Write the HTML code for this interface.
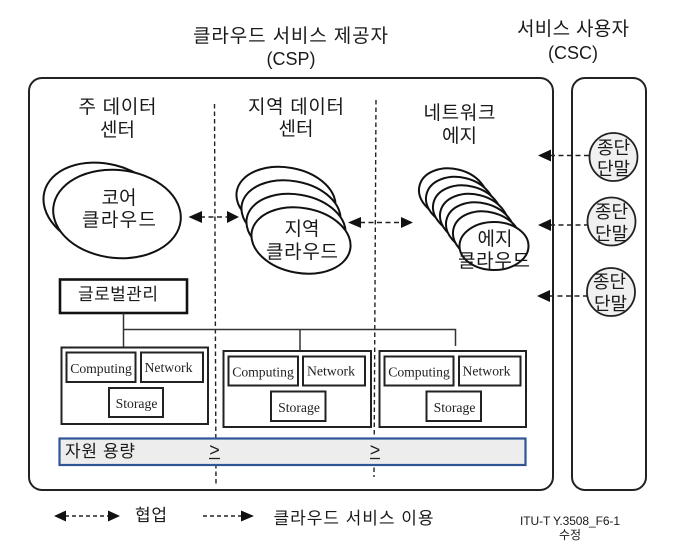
<!DOCTYPE html>
<html lang="ko">
<head>
<meta charset="utf-8">
<style>
html,body{margin:0;padding:0;background:#fff;width:677px;height:559px;overflow:hidden}
svg{display:block;filter:blur(.35px)}
text{font-family:"Liberation Sans","Noto Sans CJK KR",sans-serif;fill:#1a1a1a;font-weight:400;text-anchor:middle}
.k{font-size:19px}
.s{font-family:"Liberation Serif",serif;font-size:13.7px;fill:#222}
.t{font-size:18px}
.box{fill:#fff;stroke:#222;stroke-width:2}
.e{fill:#fff;stroke:#111;stroke-width:2}
.c{fill:#f0f0f0;stroke:#222;stroke-width:1.8}
.d{stroke:#222;stroke-width:1.6;stroke-dasharray:5 3.5;fill:none}
.l{stroke:#333;stroke-width:1.5;fill:none}
</style>
</head>
<body>
<svg width="677" height="559" viewBox="0 0 677 559" xmlns="http://www.w3.org/2000/svg">
<rect x="29" y="78" width="524" height="412" rx="13" fill="#fff" stroke="#222" stroke-width="2"/>
<rect x="572" y="78" width="74" height="412" rx="13" fill="#fff" stroke="#222" stroke-width="2"/>

<line x1="214.500" y1="104" x2="216" y2="484" stroke="#222" stroke-width="1.4" stroke-dasharray="4.5 3"/>
<line x1="376" y1="100" x2="374" y2="477" stroke="#222" stroke-width="1.4" stroke-dasharray="4.5 3"/>

<text class="k" x="290.500" y="42" textLength="195">클라우드 서비스 제공자</text>
<text class="k" x="291" y="65" style="font-size:18px">(CSP)</text>
<text class="k" x="573" y="35" textLength="112">서비스 사용자</text>
<text class="k" x="573" y="59" style="font-size:18px">(CSC)</text>

<text class="k" x="117.500" y="113" textLength="78">주 데이터</text>
<text class="k" x="117.500" y="136">센터</text>
<text class="k" x="296" y="113" textLength="96">지역 데이터</text>
<text class="k" x="296" y="135">센터</text>
<text class="k" x="459.500" y="119" textLength="72">네트워크</text>
<text class="k" x="459.500" y="142">에지</text>

<ellipse class="e" cx="105" cy="207" rx="62.500" ry="43" transform="rotate(14 105 207)"/>
<ellipse class="e" cx="117" cy="214" rx="64" ry="44" transform="rotate(6 117 214)"/>
<text class="k" x="119" y="204">코어</text>
<text class="k" x="119" y="226" textLength="74">클라우드</text>

<ellipse class="e" cx="286" cy="200" rx="50" ry="32.500" transform="rotate(10 286 200)"/>
<ellipse class="e" cx="291" cy="213.500" rx="50" ry="32.500" transform="rotate(10 291 213.500)"/>
<ellipse class="e" cx="296" cy="227" rx="50" ry="32.500" transform="rotate(10 296 227)"/>
<ellipse class="e" cx="301" cy="240.500" rx="50" ry="32.500" transform="rotate(10 301 240.500)"/>
<text class="k" x="302" y="235">지역</text>
<text class="k" x="302" y="258" textLength="72">클라우드</text>

<ellipse class="e" cx="453" cy="194" rx="34.500" ry="25" transform="rotate(14 453 194)"/>
<ellipse class="e" cx="460" cy="202.500" rx="34.500" ry="25" transform="rotate(14 460 202.500)"/>
<ellipse class="e" cx="467" cy="211" rx="34.500" ry="25" transform="rotate(14 467 211)"/>
<ellipse class="e" cx="474" cy="219.500" rx="34.500" ry="25" transform="rotate(14 474 219.500)"/>
<ellipse class="e" cx="480" cy="228" rx="34.500" ry="25" transform="rotate(14 480 228)"/>
<ellipse class="e" cx="487" cy="237" rx="34.500" ry="25" transform="rotate(14 487 237)"/>
<ellipse class="e" cx="494" cy="246" rx="34.500" ry="24"/>
<text class="k" x="495" y="245">에지</text>
<text class="k" x="494" y="267" textLength="72">클라우드</text>

<line class="d" x1="200" y1="217" x2="228" y2="217"/>
<polygon points="188.500,217 202,211 202,223" fill="#111"/>
<polygon points="239,217 227,211 227,223" fill="#111"/>
<line class="d" x1="360" y1="222.500" x2="402" y2="222.500"/>
<polygon points="348,222.500 361,217 361,228" fill="#111"/>
<polygon points="413,222.500 401,217 401,228" fill="#111"/>

<line class="d" x1="550" y1="155.500" x2="589" y2="155.500"/>
<polygon points="538,155.500 551,149.500 551,161.500" fill="#111"/>
<line class="d" x1="550" y1="225" x2="587" y2="225"/>
<polygon points="538,225 551,219 551,231" fill="#111"/>
<line class="d" x1="549" y1="296" x2="587" y2="296"/>
<polygon points="537,296 550,290 550,302" fill="#111"/>

<circle class="c" cx="613.500" cy="157" r="24"/>
<circle class="c" cx="611.500" cy="221.500" r="24"/>
<circle class="c" cx="611" cy="292" r="24"/>
<text class="t" x="613.500" y="154">종단</text>
<text class="t" x="613.500" y="175">단말</text>
<text class="t" x="611.500" y="218">종단</text>
<text class="t" x="611.500" y="240">단말</text>
<text class="t" x="609.500" y="288">종단</text>
<text class="t" x="610.500" y="310">단말</text>

<rect x="60" y="279.500" width="127" height="33.500" fill="#fff" stroke="#111" stroke-width="2.6"/>
<text x="118" y="300" font-size="17" textLength="80">글로벌관리</text>

<path class="l" d="M123.500 313V347M123.500 329.500H455.500V346M300 329.500V351"/>

<rect class="box" x="61.500" y="347.500" width="146.500" height="76.500"/>
<rect class="box" x="66.500" y="352.500" width="69" height="29.500"/>
<rect class="box" x="141" y="352.500" width="62" height="29.500"/>
<rect class="box" x="109" y="388" width="54" height="29"/>
<text class="s" x="101" y="373">Computing</text>
<text class="s" x="168.500" y="372">Network</text>
<text class="s" x="136.500" y="408">Storage</text>

<rect class="box" x="223.500" y="351" width="147.500" height="76"/>
<rect class="box" x="228.500" y="356.500" width="69.500" height="29"/>
<rect class="box" x="303" y="356.500" width="62" height="29"/>
<rect class="box" x="271" y="391.500" width="54.500" height="29.500"/>
<text class="s" x="263" y="376.500">Computing</text>
<text class="s" x="331" y="375.500">Network</text>
<text class="s" x="299" y="412">Storage</text>

<rect class="box" x="379.500" y="351" width="146.500" height="76"/>
<rect class="box" x="384.500" y="356.500" width="69" height="29"/>
<rect class="box" x="459" y="356.500" width="61.500" height="29"/>
<rect class="box" x="426.500" y="391.500" width="54.500" height="29.500"/>
<text class="s" x="419" y="376.500">Computing</text>
<text class="s" x="486.500" y="375.500">Network</text>
<text class="s" x="454.500" y="412">Storage</text>

<rect x="59.500" y="438.500" width="466" height="26.500" fill="#ededed" stroke="#2f5597" stroke-width="2.2"/>
<text x="100" y="457" font-size="17" textLength="70">자원 용량</text>
<text x="214.500" y="456" font-size="18">&gt;</text>
<text x="375" y="456" font-size="18">&gt;</text>
<line x1="209" y1="458.500" x2="220" y2="458.500" stroke="#222" stroke-width="1.3"/>
<line x1="370" y1="458.500" x2="380" y2="458.500" stroke="#222" stroke-width="1.3"/>

<line class="d" x1="65" y1="516" x2="109" y2="516" style="stroke-dasharray:4 3"/>
<polygon points="54,516 66,510.500 66,521.500" fill="#111"/>
<polygon points="120,516 108,510.500 108,521.500" fill="#111"/>
<text x="151" y="521" font-size="17" textLength="32">협업</text>
<line class="d" x1="203" y1="516" x2="242" y2="516" style="stroke-dasharray:4 3"/>
<polygon points="254,516 241,510.500 241,521.500" fill="#111"/>
<text x="353.500" y="524" font-size="17" textLength="160">클라우드 서비스 이용</text>

<text x="570" y="525" font-size="12" textLength="100">ITU-T Y.3508_F6-1</text>
<text x="570" y="539" font-size="12">수정</text>
</svg>
</body>
</html>
